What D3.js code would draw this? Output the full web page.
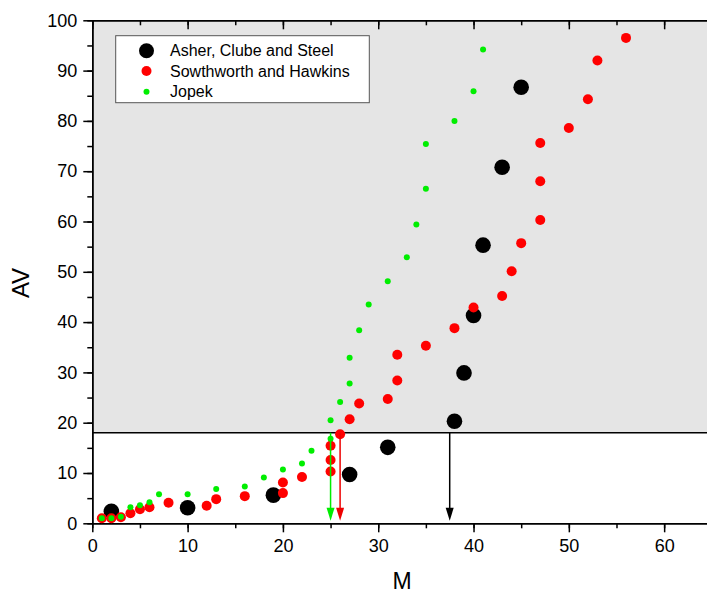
<!DOCTYPE html>
<html><head><meta charset="utf-8">
<script src="https://cdn.jsdelivr.net/npm/d3@7/dist/d3.min.js"></script>
<style>body{margin:0;background:#fff;}svg{display:block;font-family:"Liberation Sans",Arial,sans-serif;}</style>
</head><body>
<svg id="c" width="707" height="594"></svg>
<script>
const asherM  = [2, 10, 19, 27, 31, 38, 39, 40, 41, 43, 45];
const asherAV = [2.4, 3.1, 5.6, 9.7, 15.1, 20.3, 29.9, 41.3, 55.3, 70.8, 86.7];
const southM  = [1, 2, 3, 4, 5, 6, 8, 12, 13, 16, 20, 20, 22, 25, 25, 25, 26, 27, 28, 31, 32, 32, 35, 38, 40, 43, 44, 45, 47, 47, 47, 50, 52, 53, 56];
const southAV = [1.0, 1.0, 1.2, 2.0, 2.8, 3.2, 4.1, 3.5, 4.8, 5.4, 6.0, 8.1, 9.2, 10.3, 12.6, 15.4, 17.7, 20.7, 23.8, 24.7, 28.4, 33.5, 35.3, 38.8, 42.9, 45.2, 50.1, 55.7, 60.3, 68.0, 75.6, 78.6, 84.3, 92.0, 96.5];
const jopekM  = [1, 2, 3, 4, 5, 6, 7, 10, 13, 16, 18, 20, 22, 23, 25, 25, 26, 27, 27, 28, 29, 31, 33, 34, 35, 35, 38, 40, 41];
const jopekAV = [1.0, 1.0, 1.3, 3.2, 3.6, 4.2, 5.8, 5.8, 6.8, 7.3, 9.1, 10.7, 11.9, 14.4, 16.8, 20.5, 24.1, 27.8, 32.9, 38.4, 43.5, 48.1, 52.9, 59.4, 66.5, 75.4, 80.0, 85.9, 94.2];
const seriesNames = ["Asher, Clube and Steel", "Sowthworth and Hawkins", "Jopek"];
const threshold = 18;
const arrowM = [25, 26, 37.5];
const arrowColors = ["#00ee00", "#ee0000", "#000000"];
const xTicks = [0, 10, 20, 30, 40, 50, 60];
const yTicks = [0, 10, 20, 30, 40, 50, 60, 70, 80, 90, 100];

const svg = d3.select("#c");
const x = d3.scaleLinear().domain([0, 65]).range([92.3, 711.8]);
const y = d3.scaleLinear().domain([0, 100]).range([523.3, 20.3]);
const x0 = x(0), x1 = x(65), y0 = y(0), y1 = y(100);

// shaded region above threshold
svg.append("rect").attr("x", x0).attr("y", y1).attr("width", x1 - x0).attr("height", y(threshold) - y1).attr("fill", "#e5e5e5");
svg.append("line").attr("x1", x0).attr("x2", x1).attr("y1", y(threshold)).attr("y2", y(threshold)).attr("stroke", "#000").attr("stroke-width", 1.5);

// axes
const minorX = d3.range(0, 66, 5), minorY = d3.range(0, 101, 5);
function styleAxis(g) {
  g.selectAll("path").attr("stroke", "#000").attr("stroke-width", 1.5);
  g.selectAll(".tick line").attr("stroke", "#000").attr("stroke-width", 1.5);
  g.selectAll("text").attr("font-size", 18).attr("fill", "#000").attr("font-family", "'Liberation Sans', Arial, sans-serif");
}
// bottom
svg.append("g").attr("transform", `translate(0,${y0})`)
  .call(d3.axisBottom(x).tickValues(minorX).tickSize(5).tickFormat("").tickSizeOuter(0)).call(styleAxis);
svg.append("g").attr("transform", `translate(0,${y0})`)
  .call(d3.axisBottom(x).tickValues(xTicks).tickSize(9).tickPadding(7).tickFormat(d3.format("d")).tickSizeOuter(0)).call(styleAxis);
// top
svg.append("g").attr("transform", `translate(0,${y1})`)
  .call(d3.axisBottom(x).tickValues(minorX).tickSize(5).tickFormat("").tickSizeOuter(0)).call(styleAxis);
svg.append("g").attr("transform", `translate(0,${y1})`)
  .call(d3.axisBottom(x).tickValues(xTicks).tickSize(9).tickFormat("").tickSizeOuter(0)).call(styleAxis);
// left
svg.append("g").attr("transform", `translate(${x0},0)`)
  .call(d3.axisLeft(y).tickValues(minorY).tickSize(5).tickFormat("").tickSizeOuter(0)).call(styleAxis);
svg.append("g").attr("transform", `translate(${x0},0)`)
  .call(d3.axisLeft(y).tickValues(yTicks).tickSize(9).tickPadding(6).tickFormat(d3.format("d")).tickSizeOuter(0)).call(styleAxis);
// right
svg.append("g").attr("transform", `translate(${x1},0)`)
  .call(d3.axisLeft(y).tickValues(minorY).tickSize(-5).tickFormat("").tickSizeOuter(0)).call(styleAxis);
svg.append("g").attr("transform", `translate(${x1},0)`)
  .call(d3.axisLeft(y).tickValues(yTicks).tickSize(-9).tickFormat("").tickSizeOuter(0)).call(styleAxis);

// axis titles
svg.append("text").attr("x", (x0 + x1) / 2).attr("y", 589).attr("text-anchor", "middle").attr("font-size", 23).text("M");
svg.append("text").attr("transform", `translate(29,283) rotate(-90)`).attr("text-anchor", "middle").attr("font-size", 24).text("AV");

// points
const asher = asherM.map((m, i) => ({m, v: asherAV[i]}));
const south = southM.map((m, i) => ({m, v: southAV[i]}));
const jopek = jopekM.map((m, i) => ({m, v: jopekAV[i]}));
svg.append("g").selectAll("circle").data(asher).join("circle")
  .attr("cx", d => x(d.m)).attr("cy", d => y(d.v)).attr("r", 7.8).attr("fill", "#000");
svg.append("g").selectAll("circle").data(south).join("circle")
  .attr("cx", d => x(d.m)).attr("cy", d => y(d.v)).attr("r", 5).attr("fill", "#ff0000");
svg.append("g").selectAll("circle").data(jopek).join("circle")
  .attr("cx", d => x(d.m)).attr("cy", d => y(d.v)).attr("r", 3).attr("fill", "#00ee00");

// arrows
arrowM.forEach((m, i) => {
  const ax = x(m), top = y(threshold), tip = y(0) - 2.5;
  svg.append("line").attr("x1", ax).attr("x2", ax).attr("y1", top).attr("y2", tip - 8)
    .attr("stroke", arrowColors[i]).attr("stroke-width", 1.5);
  svg.append("path").attr("d", `M${ax - 4},${tip - 13} L${ax + 4},${tip - 13} L${ax},${tip} Z`).attr("fill", arrowColors[i]);
});

// legend
const lg = svg.append("g");
lg.append("rect").attr("x", 115.7).attr("y", 35.7).attr("width", 253.6).attr("height", 67).attr("fill", "#fff").attr("stroke", "#555").attr("stroke-width", 1);
const legR = [7.5, 5, 3], legC = ["#000", "#ff0000", "#00ee00"], legY = [50.7, 71, 91.7];
seriesNames.forEach((n, i) => {
  lg.append("circle").attr("cx", 146.5).attr("cy", legY[i]).attr("r", legR[i]).attr("fill", legC[i]);
  lg.append("text").attr("x", 170).attr("y", legY[i]).attr("dy", "0.35em").attr("font-size", 16).text(n);
});
</script>
</body></html>
